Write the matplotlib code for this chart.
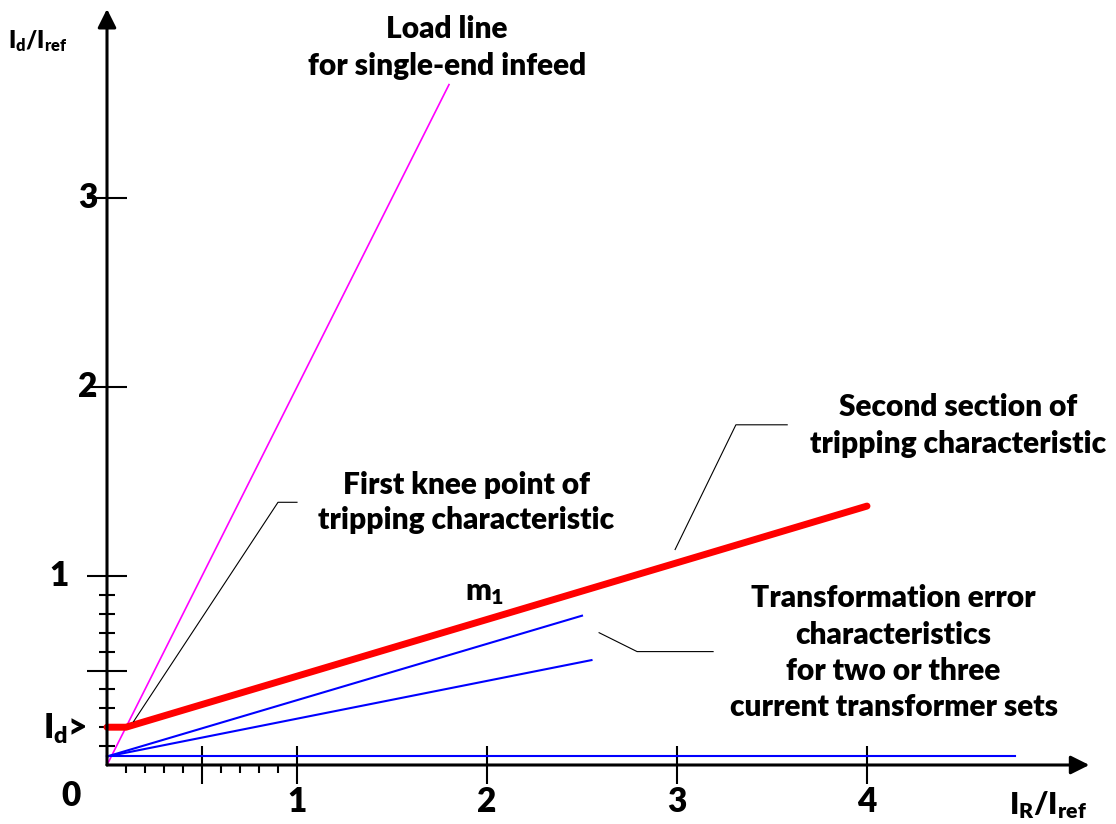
import matplotlib.pyplot as plt

plt.rcParams["font.family"] = ["Lato", "DejaVu Sans"]
plt.rcParams["font.weight"] = "heavy"
plt.rcParams["mathtext.fontset"] = "custom"
plt.rcParams["mathtext.rm"] = "Lato:heavy"
plt.rcParams["mathtext.it"] = "Lato:heavy"
plt.rcParams["mathtext.bf"] = "Lato:heavy"

# Kennlinien (I_R/I_ref, I_d/I_ref)
load_x = [0, 1.8]
load_y = [0, 3.6]
trip_x = [0, 0.1, 4.0]
trip_y = [0.2, 0.2, 1.37]
err_start = (0, 0.045)
err_end_x = [2.5, 2.55, 4.78]
err_end_y = [0.79, 0.555, 0.045]

# Hinweislinien
knee_x = [0.14, 0.9, 1.0]
knee_y = [0.23, 1.39, 1.39]
second_x = [2.99, 3.31, 3.58]
second_y = [1.14, 1.80, 1.80]
error_x = [2.59, 2.79, 3.19]
error_y = [0.70, 0.60, 0.60]

x_major = [0.5, 1, 2, 3, 4]
x_minor = [0.1, 0.2, 0.3, 0.4, 0.6, 0.7, 0.8, 0.9]
y_major = [0.5, 1, 2, 3]
y_minor = [0.1, 0.2, 0.3, 0.4, 0.6, 0.7, 0.8, 0.9]
x_labels = ["1", "2", "3", "4"]
x_label_pos = [1, 2, 3, 4]
y_labels = ["3", "2", "1"]
y_label_pos = [3, 2, 1]

fig = plt.figure(figsize=(11.16, 8.24), dpi=100)
ax = fig.add_axes([0, 0, 1, 1])
ax.set_xlim(-107 / 190, (1116 - 107) / 190)
ax.set_ylim((765 - 824) / 189, 765 / 189)

for s in ["top", "right"]:
    ax.spines[s].set_visible(False)
for s in ["left", "bottom"]:
    ax.spines[s].set_position(("data", 0))
    ax.spines[s].set_color("none")

ax.set_xticks(x_major)
ax.set_xticks(x_minor, minor=True)
ax.set_yticks(y_major)
ax.set_yticks(y_minor, minor=True)
ax.set_xticklabels([])
ax.set_yticklabels([])
ax.tick_params(axis="x", which="major", direction="inout", length=27, width=1.5)
ax.tick_params(axis="x", which="minor", direction="out", length=6, width=1.5)
ax.tick_params(axis="y", which="major", direction="inout", length=29, width=1.5)
ax.tick_params(axis="y", which="minor", direction="inout", length=11.5, width=1.5)

# Achsen mit Pfeilen
ax.annotate("", xy=(0, 4.0), xytext=(0, 0),
            arrowprops=dict(arrowstyle="-|>", lw=2.2, color="black", mutation_scale=28,
                            shrinkA=0, shrinkB=0))
ax.annotate("", xy=(5.17, 0), xytext=(0, 0),
            arrowprops=dict(arrowstyle="-|>", lw=2.2, color="black", mutation_scale=28,
                            shrinkA=0, shrinkB=0))

ax.plot(load_x, load_y, color="#ff00ff", lw=1.2)
for ex, ey in zip(err_end_x, err_end_y):
    ax.plot([err_start[0], ex], [err_start[1], ey], color="#0000ff", lw=1.5)
ax.plot(trip_x, trip_y, color="#ff0000", lw=5, solid_capstyle="round")

for lx, ly in [(knee_x, knee_y), (second_x, second_y), (error_x, error_y)]:
    ax.plot(lx, ly, color="black", lw=0.8)

fs = 21.5
ax.text(1.79, 3.795, "Load line\nfor single-end infeed", ha="center", va="center",
        fontsize=fs, linespacing=1.4)
ax.text(1.89, 1.39, "First knee point of\ntripping characteristic", ha="center",
        va="center", fontsize=fs, linespacing=1.3)
ax.text(4.48, 1.795, "Second section of\ntripping characteristic", ha="center",
        va="center", fontsize=fs, linespacing=1.4)
ax.text(4.14, 0.595, "Transformation error\ncharacteristics\nfor two or three\ncurrent transformer sets",
        ha="center", va="center", fontsize=fs, linespacing=1.35)
ax.text(1.99, 0.91, r"$m_1$", ha="center", va="center", fontsize=22)

ax.text(-0.22, 0.19, r"$I_d$>", ha="center", va="center", fontsize=24)
ax.text(-0.52, 3.83, r"$I_d/I_{ref}$", ha="left", va="center", fontsize=17)
ax.text(4.95, -0.21, r"$I_R/I_{ref}$", ha="center", va="center", fontsize=22)

ax.text(-0.19, -0.165, "0", ha="center", va="center", fontsize=24)
for lab, pos in zip(x_labels, x_label_pos):
    ax.text(pos, -0.195, lab, ha="center", va="center", fontsize=24)
for lab, pos in zip(y_labels, y_label_pos):
    xoff = -0.2 if pos == 1 else -0.05
    ax.text(xoff, pos, lab, ha="right", va="center", fontsize=24)

fig.savefig("out.png", dpi=100)
